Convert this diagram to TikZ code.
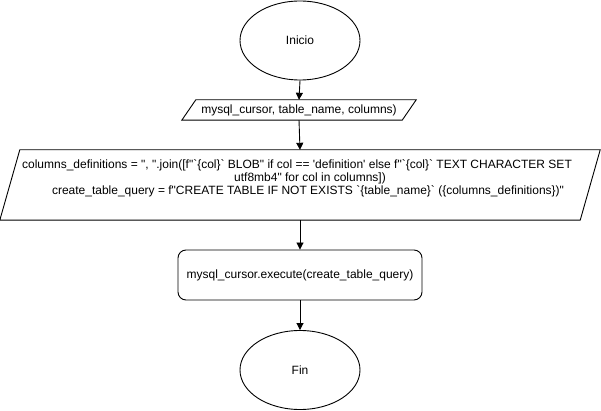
\documentclass[tikz,border=0pt]{standalone}
\usepackage{fontspec}
\newfontfamily\arialf{Liberation Sans}
\usetikzlibrary{shapes.geometric,calc,arrows.meta}
\begin{document}
\begin{tikzpicture}[x=1pt,y=-1pt,
  txt/.style={font=\arialf\fontsize{12}{13}\selectfont, inner sep=0pt, align=center},
  term/.style={ellipse, draw, line width=0.9pt, minimum width=120pt, minimum height=79pt, inner sep=0pt, txt},
  box/.style={draw=none, inner sep=0pt},
  proc/.style={draw, line width=0.9pt, rounded corners=8pt, minimum width=244pt, minimum height=50pt, inner sep=0pt, txt},
  flow/.style={line width=0.9pt, -{Triangle[length=7pt,width=7pt]}},
  edge/.style={line width=0.9pt, line join=miter}
]
\useasboundingbox (0,0) rectangle (601,411);
\fill[white] (0,0) rectangle (601,411);
\node[term] (ini) at (300,40.5) {Inicio};
\node[box, minimum width=234pt, minimum height=20pt] (p1) at (299,110) {};
\draw[edge] ($(p1.north west)+(14,0)$) -- (p1.north east) -- ($(p1.south east)-(14,0)$) -- (p1.south west) -- cycle;
\node[txt] (t1) at (p1.center) {mysql\_cursor, table\_name, columns)};
\node[box, minimum width=600pt, minimum height=70pt] (p2) at (300,185) {};
\draw[edge] ($(p2.north west)+(20,0)$) -- (p2.north east) -- ($(p2.south east)-(20,0)$) -- (p2.south west) -- cycle;
\node[txt] (t2) at (300,178.5) {columns\_definitions = ", ".join([f"`\{col\}` BLOB" if col == 'definition' else f"`\{col\}` TEXT CHARACTER SET\hspace*{6pt}\\
\hspace*{20pt}utf8mb4" for col in columns])\\
\hspace*{16pt}create\_table\_query = f"CREATE TABLE IF NOT EXISTS `\{table\_name\}` (\{columns\_definitions\})"};
\node[proc] (exe) at (300,275) {mysql\_cursor.execute(create\_table\_query)};
\node[term] (fin) at (300,370) {Fin};
\draw[flow] (ini.south) -- (p1.north);
\draw[flow] (p1.south) -- (p2.north);
\draw[flow] (p2.south) -- (exe.north);
\draw[flow] (exe.south) -- (fin.north);
\end{tikzpicture}
\end{document}
